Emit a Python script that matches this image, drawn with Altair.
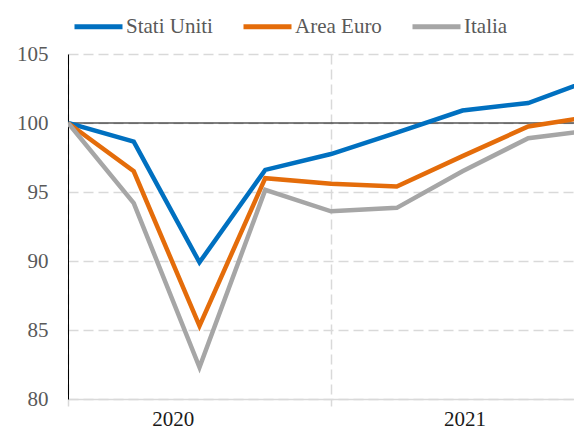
import altair as alt
import pandas as pd

# ---- data ----
periodi = [0, 1, 2, 3, 4, 5, 6, 7, 8]
stati_uniti = [100, 98.65, 89.9, 96.6, 97.75, 99.3, 100.9, 101.45, 103.2]
area_euro = [100, 96.5, 85.3, 96.0, 95.6, 95.4, 97.6, 99.75, 100.5]
italia = [100, 94.2, 82.3, 95.15, 93.6, 93.85, 96.5, 98.9, 99.5]
serie = ["Stati Uniti", "Area Euro", "Italia"]
colori = ["#0070C0", "#E46C0A", "#A6A6A6"]
anni = ["2020", "2021"]
pos_anni = [1.6, 6.04]
y_ticks = [80, 85, 90, 95, 100, 105]
x_ticks = [0, 4]
riferimento = [100]

rows = []
for name, vals in zip(serie, [stati_uniti, area_euro, italia]):
    for p, v in zip(periodi, vals):
        rows.append({"periodo": p, "valore": v, "serie": name})
df = pd.DataFrame(rows)
df_anni = pd.DataFrame({"periodo": pos_anni, "anno": anni})
df_ref = pd.DataFrame({"valore": riferimento})

FONT = "Liberation Serif"
GRID = "#d9d9d9"

xscale = alt.Scale(domain=[0, 7.696], nice=False, zero=False)
yscale = alt.Scale(domain=[80, 105], nice=False, zero=False)

x_axis = alt.Axis(values=x_ticks, labels=False, title=None, grid=True,
                  gridDash=[10, 5], gridColor=GRID, gridWidth=1.5,
                  ticks=True, tickSize=7, tickColor=GRID, tickWidth=1.5,
                  domainColor=GRID, domainWidth=1.5)
y_axis = alt.Axis(values=y_ticks, title=None, grid=True, gridDash=[10, 5],
                  gridColor=GRID, gridWidth=1.5, ticks=False, labelPadding=20,
                  labelFontSize=21, labelFont=FONT, labelColor="#595959",
                  domainColor="black", domainWidth=1)

rule = alt.Chart(df_ref).mark_rule(color="black", strokeWidth=1).encode(
    y=alt.Y("valore:Q", scale=yscale, axis=y_axis)
)

lines = alt.Chart(df).mark_line(strokeWidth=4.5, clip=True).encode(
    x=alt.X("periodo:Q", scale=xscale, axis=x_axis),
    y=alt.Y("valore:Q", scale=yscale, axis=y_axis),
    color=alt.Color("serie:N", sort=serie,
                    scale=alt.Scale(domain=serie, range=colori),
                    legend=alt.Legend(orient="none", legendX=4, legendY=-54,
                                      direction="horizontal", title=None,
                                      symbolType="stroke", symbolSize=2304,
                                      symbolStrokeWidth=5, labelFontSize=21,
                                      labelFont=FONT, labelColor="#595959",
                                      labelOffset=1, columnPadding=20)),
    order=alt.Order("periodo:Q"),
)

text = alt.Chart(df_anni).mark_text(fontSize=21, font=FONT, color="#1a1a1a",
                                    baseline="middle").encode(
    x=alt.X("periodo:Q", scale=xscale, axis=x_axis),
    y=alt.value(366),
    text="anno:N",
)

chart = alt.layer(rule, lines, text).properties(
    width=506, height=345,
    autosize=alt.AutoSizeParams(type="none"),
    padding={"left": 60, "top": 46, "right": 0, "bottom": 29},
).configure_view(stroke=None)

chart.save("out.html", embed_options={"renderer": "svg", "actions": False})
